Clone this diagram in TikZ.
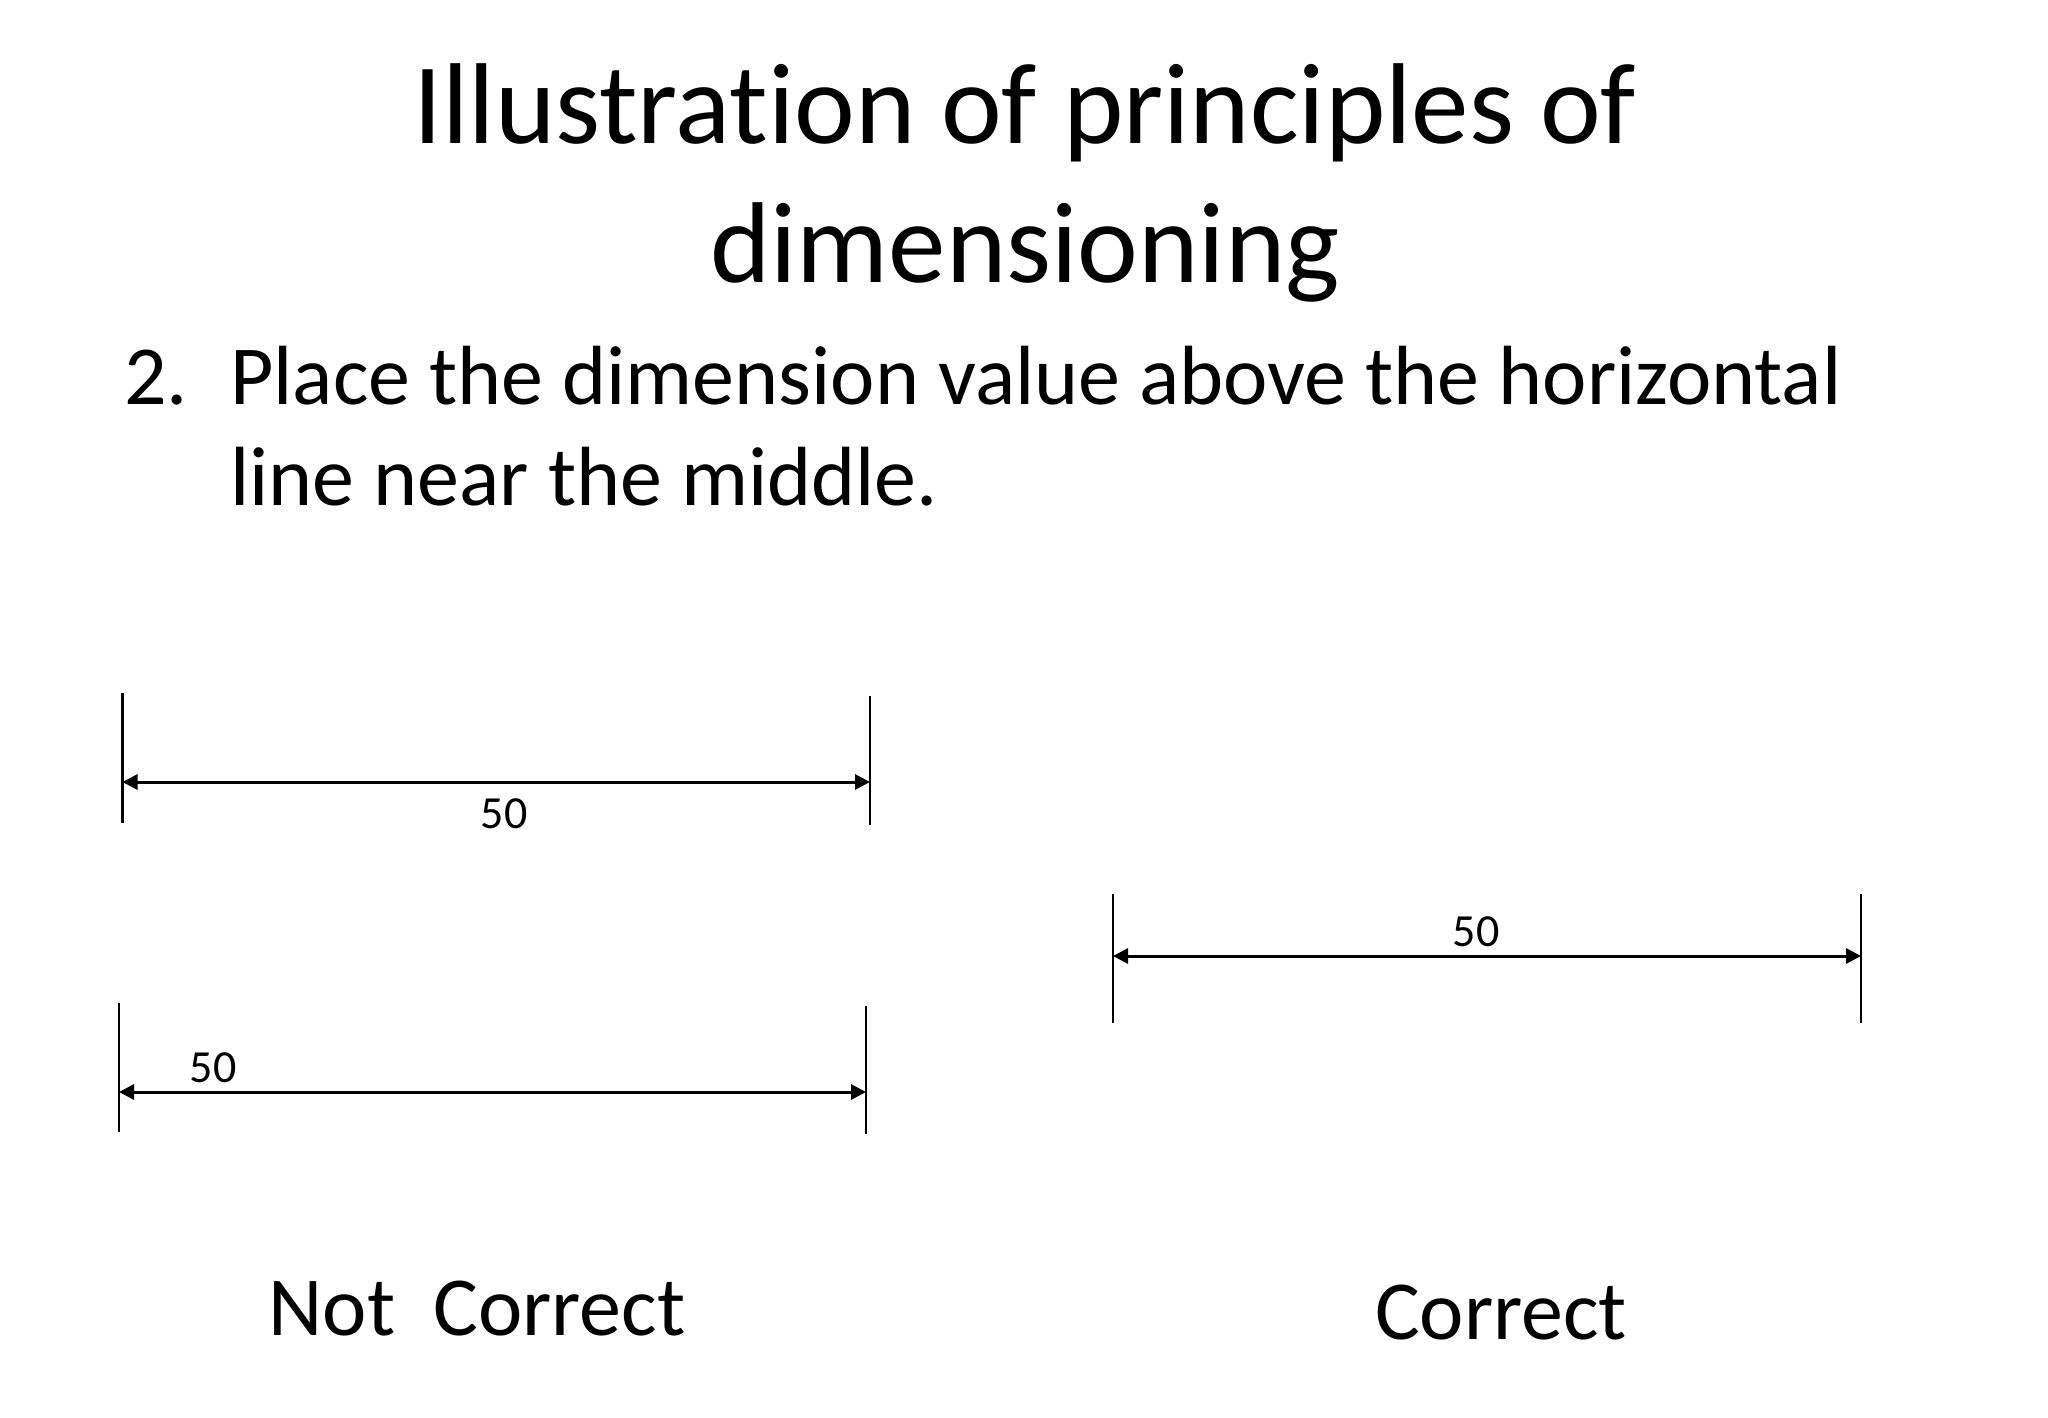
\documentclass[tikz,border=0pt]{standalone}
\usepackage{fontspec}
\setmainfont[Ligatures={NoCommon}]{Carlito}
\usetikzlibrary{arrows.meta}
\begin{document}
\begin{tikzpicture}[x=1pt,y=-1pt,
  extline/.style={line width=2.7pt},
  dimline/.style={line width=3pt,{Triangle[length=15pt,width=15pt]}-{Triangle[length=15pt,width=15pt]}},
  titletext/.style={anchor=base,inner sep=0pt,font=\fontsize{115}{138}\selectfont},
  bodytext/.style={anchor=base west,inner sep=0pt,font=\fontsize{84}{101}\selectfont},
  dimtext/.style={anchor=base,inner sep=0pt,font=\fontsize{46}{55}\selectfont}]
\useasboundingbox[fill=white] (0,0) rectangle (2048,1418);
% title
\node[titletext] (t1) at (1025,143) {Illustration of principles of};
\node[titletext] (t2) at (1025,282) {dimensioning};
% body
\node[bodytext] (num) at (124,404) {2.};
\node[bodytext] (b1) at (230,404) {Place the dimension value above the horizontal};
\node[bodytext] (b2) at (230,505) {line near the middle.};
% top-left dimension (label below)
\coordinate (a1t) at (122.5,693); \coordinate (a1b) at (122.5,823);
\coordinate (a2t) at (870,696); \coordinate (a2b) at (870,825);
\coordinate (a1m) at (122.5,782); \coordinate (a2m) at (870,782);
\draw[extline] (a1t) -- (a1b);
\draw[extline] (a2t) -- (a2b);
\draw[dimline] (a1m) -- (a2m);
\node[dimtext] (la) at (504,828) {50};
% bottom-left dimension (label near end)
\coordinate (b1t) at (119,1003); \coordinate (b1b) at (119,1132);
\coordinate (b2t) at (866,1006); \coordinate (b2b) at (866,1134);
\coordinate (b1m) at (119,1092); \coordinate (b2m) at (866,1092);
\draw[extline] (b1t) -- (b1b);
\draw[extline] (b2t) -- (b2b);
\draw[dimline] (b1m) -- (b2m);
\node[dimtext] (lb) at (213,1082) {50};
% right dimension (correct)
\coordinate (c1t) at (1113,894); \coordinate (c1b) at (1113,1023);
\coordinate (c2t) at (1861,894); \coordinate (c2b) at (1861,1023);
\coordinate (c1m) at (1113,956); \coordinate (c2m) at (1861,956);
\draw[extline] (c1t) -- (c1b);
\draw[extline] (c2t) -- (c2b);
\draw[dimline] (c1m) -- (c2m);
\node[dimtext] (lc) at (1476,946) {50};
% captions
\node[bodytext,anchor=base] (nc) at (477,1335) {Not\ \ Correct};
\node[bodytext,anchor=base] (cc) at (1501,1339) {Correct};
\end{tikzpicture}
\end{document}
